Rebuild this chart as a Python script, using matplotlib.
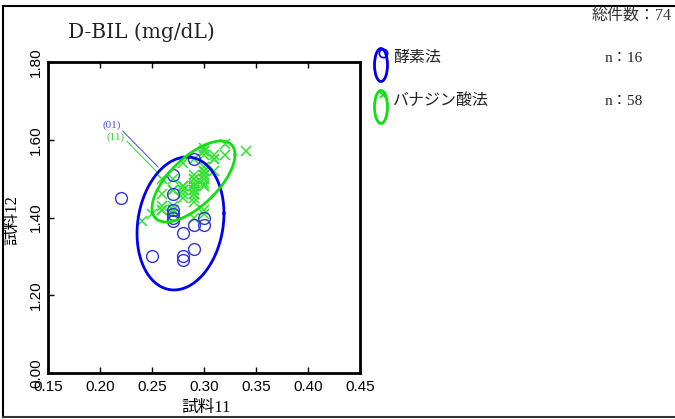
import numpy as np
import matplotlib
matplotlib.use("Agg")
import matplotlib.pyplot as plt
from matplotlib.patches import Ellipse
from matplotlib.lines import Line2D

# ---------------- data ----------------
title = "D-BIL (mg/dL)"
xlabel = "試料11"
ylabel = "試料12"
total_label = "総件数：74"

x_ticks = [0.15, 0.20, 0.25, 0.30, 0.35, 0.40, 0.45]
x_tick_labels = ["0.15", "0.20", "0.25", "0.30", "0.35", "0.40", "0.45"]
y_ticks = [1.0, 1.2, 1.4, 1.6, 1.8]
y_tick_labels = ["0.00", "1.20", "1.40", "1.60", "1.80"]

enzyme_name = "酵素法"
enzyme_n = "n：16"
enzyme_x = [0.22, 0.25, 0.27, 0.27, 0.27, 0.27, 0.27, 0.27, 0.28, 0.28, 0.28,
            0.29, 0.29, 0.29, 0.30, 0.30]
enzyme_y = [1.45, 1.30, 1.51, 1.46, 1.42, 1.41, 1.39, 1.40, 1.36, 1.30, 1.29,
            1.38, 1.32, 1.55, 1.40, 1.38]

vana_name = "バナジン酸法"
vana_n = "n：58"
vana_x = [0.24, 0.25,
          0.26, 0.26, 0.26, 0.26,
          0.27, 0.27, 0.27, 0.27, 0.27,
          0.28, 0.28, 0.28, 0.28, 0.28,
          0.29, 0.29, 0.29, 0.29, 0.29, 0.29, 0.29, 0.29, 0.29, 0.29,
          0.30, 0.30, 0.30, 0.30, 0.30, 0.30, 0.30, 0.30, 0.30, 0.30, 0.30,
          0.31, 0.31, 0.31,
          0.32, 0.32,
          0.34,
          0.29, 0.29, 0.29, 0.30, 0.30, 0.30, 0.30, 0.28, 0.27, 0.27, 0.31,
          0.26, 0.29, 0.30, 0.28]
vana_y = [1.39, 1.41,
          1.50, 1.46, 1.43, 1.42,
          1.50, 1.47, 1.43, 1.42, 1.41,
          1.54, 1.48, 1.47, 1.46, 1.45,
          1.55, 1.51, 1.50, 1.49, 1.48, 1.47, 1.46, 1.45, 1.44, 1.40,
          1.58, 1.57, 1.56, 1.53, 1.52, 1.51, 1.50, 1.49, 1.48, 1.42, 1.41,
          1.56, 1.55, 1.52,
          1.59, 1.56,
          1.57,
          1.50, 1.48, 1.46, 1.52, 1.50, 1.48, 1.57, 1.47, 1.42, 1.47, 1.55,
          1.42, 1.47, 1.51, 1.48]

# ellipse parameters: center x, center y, half-range x, half-range y, correlation
enzyme_ellipse = [0.2774, 1.3846, 0.0418, 0.171, 0.15]
vana_ellipse = [0.2899, 1.4926, 0.0399, 0.1042, 0.66]

# leader labels: text, text position, line start, line end
enzyme_tag = ["(01)", (0.2115, 1.638), (0.222, 1.622), (0.2558, 1.530)]
vana_tag = ["(11)", (0.2154, 1.607), (0.226, 1.596), (0.2548, 1.517)]

# ---------------- style ----------------
W, H = 675, 419
BLUE = "#0000ee"
BLUE_M = "#3434d8"
GREEN = "#10e010"
GREEN_M = "#30e030"
SERIF = ["Liberation Serif", "Noto Sans CJK JP"]
WSERIF = ["DejaVu Serif", "Noto Sans CJK JP"]
SANS = ["Liberation Sans", "DejaVu Sans"]


def fx(px):
    return px / W


def fy(py):
    return 1 - py / H


fig = plt.figure(figsize=(W / 100, H / 100), dpi=100)

# outer frame
fig.add_artist(Line2D([fx(3), fx(3)], [fy(6), fy(417)], color="black", lw=1.5))
fig.add_artist(Line2D([fx(3), fx(675)], [fy(6), fy(6)], color="black", lw=1.5))
fig.add_artist(Line2D([fx(3), fx(675)], [fy(417), fy(417)], color="#333333", lw=1.5))

ax = fig.add_axes([fx(48), fy(373), (360 - 48) / W, (373 - 62) / H])
ax.set_xlim(0.15, 0.45)
ax.set_ylim(1.0, 1.8)


def ellipse_xy(p, n=400):
    cx, cy, hx, hy, r = p
    t = np.linspace(0, 2 * np.pi, n)
    xs = cx + hx * np.cos(t)
    ys = cy + hy * (r * np.cos(t) + np.sqrt(1 - r * r) * np.sin(t))
    return xs, ys


ex, ey = ellipse_xy(enzyme_ellipse)
ax.plot(ex, ey, color=BLUE, lw=2.0, zorder=3)
vx, vy = ellipse_xy(vana_ellipse)
ax.plot(vx, vy, color=GREEN, lw=2.0, zorder=3)

ax.plot(vana_x, vana_y, linestyle="none", marker="x", ms=6.5, mew=1.1,
        color=GREEN_M, zorder=2)
ax.plot(enzyme_x, enzyme_y, linestyle="none", marker="o", ms=8.5, mew=1.0,
        mfc="none", mec=BLUE_M, zorder=2)

for tag, col in [(enzyme_tag, "#4a4ae0"), (vana_tag, "#30d830")]:
    txt, tpos, l0, l1 = tag
    ax.text(tpos[0], tpos[1], txt, color=col, fontsize=8, family=SERIF,
            ha="center", va="center")
    ax.plot([l0[0], l1[0]], [l0[1], l1[1]], color=col, lw=0.7)

ax.set_xticks(x_ticks)
ax.set_xticklabels(x_tick_labels, family=SANS, fontsize=11)
ax.set_yticks(y_ticks)
ax.set_yticklabels(y_tick_labels, family=SANS, fontsize=11, rotation=90,
                   va="center")
ax.tick_params(direction="in", length=4, width=1, top=True, right=False)
ax.tick_params(axis="x", pad=5)
ax.tick_params(axis="y", pad=3.5)
for s in ax.spines.values():
    s.set_linewidth(2)
    s.set_color("black")

# texts
fig.text(fx(68), fy(32), title, family=WSERIF, fontsize=14.5, ha="left",
         va="center", color="#222222")
fig.text(fx(206), fy(408), xlabel, family=SERIF, fontsize=12, ha="center",
         va="center")
fig.text(fx(12), fy(220), ylabel, family=SERIF, fontsize=12, ha="center",
         va="center", rotation=90)
fig.text(fx(592), fy(16), total_label, family=SERIF, fontsize=11.5, ha="left",
         va="center", color="#333333")

# legend
lax = fig.add_axes([0, 0, 1, 1])
lax.set_xlim(0, W)
lax.set_ylim(H, 0)
lax.axis("off")
lax.add_patch(Ellipse((381, 65), 13, 33, fill=False, ec=BLUE, lw=2))
lax.plot([383], [53], marker="o", ms=6, mfc="none", mec=BLUE, mew=1.2)
lax.add_patch(Ellipse((381, 107), 13, 33, fill=False, ec=GREEN, lw=2))
lax.plot([383], [95], marker="x", ms=5, color=GREEN, mew=1.2)
lax.text(393, 58, enzyme_name, family=SERIF, fontsize=11.5, va="center",
         ha="left", color="#222222")
lax.text(393, 101, vana_name, family=SERIF, fontsize=11.5, va="center",
         ha="left", color="#222222")
lax.text(605, 58, enzyme_n, family=SERIF, fontsize=11, va="center",
         ha="left", color="#222222")
lax.text(605, 101, vana_n, family=SERIF, fontsize=11, va="center",
         ha="left", color="#222222")

fig.savefig("out.png", dpi=100)
